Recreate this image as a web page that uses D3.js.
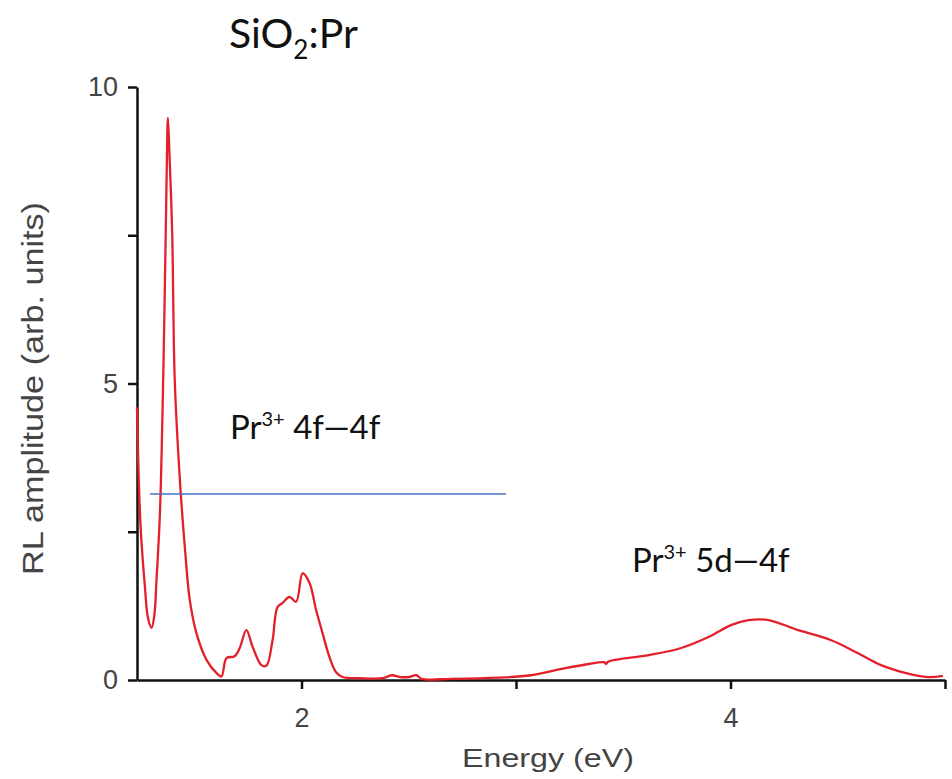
<!DOCTYPE html>
<html>
<head>
<meta charset="utf-8">
<script src="https://cdnjs.cloudflare.com/ajax/libs/d3/7.8.5/d3.min.js"></script>
<style>
  body { margin: 0; background: #fff; }
</style>
</head>
<body>
<div id="chart"></div>
<script>
// RL spectrum of SiO2:Pr
var energy = [1.233, 1.241, 1.251, 1.270, 1.284, 1.301, 1.314, 1.324, 1.340, 1.355, 1.367, 1.372, 1.377, 1.384, 1.397, 1.409,
  1.433, 1.456, 1.479, 1.510, 1.557, 1.603, 1.627, 1.650, 1.688, 1.712, 1.743, 1.772, 1.813, 1.836, 1.865, 1.888, 1.912,
  1.944, 1.975, 2.005, 2.037, 2.068, 2.098, 2.130, 2.161, 2.191, 2.27, 2.38, 2.42, 2.46, 2.50, 2.535, 2.56, 2.70, 2.92,
  3.07, 3.23, 3.34, 3.41, 3.42, 3.43, 3.62, 3.77, 3.90, 4.005, 4.084, 4.177, 4.316, 4.470, 4.595, 4.702, 4.814, 4.921, 4.99];
var amplitude = [4.6, 3.4, 2.5, 1.57, 1.05, 0.88, 1.1, 1.69, 2.82, 5.06, 7.54, 8.7, 9.48, 8.9, 7.54, 5.06,
  3.37, 2.24, 1.35, 0.79, 0.34, 0.12, 0.06, 0.37, 0.40, 0.54, 0.84, 0.56, 0.25, 0.24, 0.67, 1.23, 1.30,
  1.40, 1.32, 1.80, 1.64, 1.18, 0.79, 0.39, 0.13, 0.05, 0.03, 0.03, 0.08, 0.05, 0.05, 0.08, 0.02, 0.02, 0.04,
  0.08, 0.20, 0.27, 0.30, 0.27, 0.31, 0.42, 0.54, 0.73, 0.93, 1.01, 1.01, 0.84, 0.67, 0.45, 0.25, 0.12, 0.05, 0.07];

var xTicks = [2, 3, 4, 5];
var xLabels = [2, 4];
var yTicks = [0, 2.5, 5, 7.5, 10];
var yLabels = [0, 5, 10];

var svg = d3.select('#chart').append('svg').attr("width", 952).attr("height", 779);

// plot box (pixels)
var plotLeft = 137, plotRight = 945, plotTop = 87, plotBottom = 680;

var x_scale = d3.scaleLinear().domain([1.233, 5]).range([plotLeft, plotRight]);
var y_scale = d3.scaleLinear().domain([0, 10]).range([plotBottom, plotTop]);

var data = energy.map(function (e, i) { return { e: e, a: amplitude[i] }; });

// x axis
var x_axis = d3.axisBottom(x_scale)
    .tickValues(xTicks)
    .tickSize(9)
    .tickSizeOuter(0)
    .tickPadding(19)
    .tickFormat(function (d) { return xLabels.indexOf(d) >= 0 ? d : ""; });
var gx = svg.append("g")
    .attr("transform", "translate(0," + plotBottom + ")")
    .call(x_axis);

// y axis
var y_axis = d3.axisLeft(y_scale)
    .tickValues(yTicks)
    .tickSize(9)
    .tickSizeOuter(0)
    .tickPadding(10)
    .tickFormat(function (d) { return yLabels.indexOf(d) >= 0 ? d : ""; });
var gy = svg.append("g")
    .attr("transform", "translate(" + plotLeft + ",0)")
    .call(y_axis);

[gx, gy].forEach(function (g) {
    g.select(".domain").attr("stroke", "#111").attr("stroke-width", 2.5);
    g.selectAll(".tick line").attr("stroke", "#111").attr("stroke-width", 2.5);
    g.selectAll(".tick text")
        .attr("fill", "#444")
        .style("font-family", "'Liberation Sans', Arial, sans-serif")
        .style("font-size", "27px");
});

// the spectrum
var line = d3.line()
    .x(function (d) { return x_scale(d.e); })
    .y(function (d) { return y_scale(d.a); })
    .curve(d3.curveCatmullRom.alpha(0.5));

svg.append("path")
    .datum(data)
    .attr("fill", "none")
    .attr("stroke", "#e3202a")
    .attr("stroke-width", 2.3)
    .attr("d", line);

// axis titles
svg.append("text")
    .attr("x", 462)
    .attr("y", 767)
    .attr("textLength", 172)
    .attr("lengthAdjust", "spacingAndGlyphs")
    .attr("fill", "#444")
    .style("font-family", "'Liberation Sans', Arial, sans-serif")
    .style("font-size", "26px")
    .text("Energy (eV)");

svg.append("text")
    .attr("transform", "translate(43,575) rotate(-90)")
    .attr("textLength", 373)
    .attr("lengthAdjust", "spacingAndGlyphs")
    .attr("fill", "#444")
    .style("font-family", "'Liberation Sans', Arial, sans-serif")
    .style("font-size", "29px")
    .text("RL amplitude (arb. units)");

// title
var title = svg.append("text")
    .attr("x", 229)
    .attr("y", 48)
    .attr("fill", "#111")
    .style("font-family", "Lato, 'Open Sans', sans-serif")
    .style("font-size", "41px");
title.append("tspan").text("SiO");
title.append("tspan").attr("dy", 11).style("font-size", "26px").text("2");
title.append("tspan").attr("dy", -11).text(":Pr");

// annotations
function addLabel(x, y, rest) {
    var t = svg.append("text")
        .attr("x", x)
        .attr("y", y)
        .attr("fill", "#111")
        .style("font-family", "Lato, 'Open Sans', sans-serif")
        .style("font-size", "33px");
    t.append("tspan").text("Pr");
    t.append("tspan").attr("dy", -13).style("font-size", "20px").text("3+");
    t.append("tspan").attr("dy", 13).text(" " + rest);
}
addLabel(230, 439, "4f\u20144f");
addLabel(632, 572, "5d\u20144f");

svg.append("line")
    .attr("x1", 150).attr("x2", 506)
    .attr("y1", 494).attr("y2", 494)
    .attr("stroke", "#4472c4")
    .attr("stroke-width", 1.6);
</script>
</body>
</html>
